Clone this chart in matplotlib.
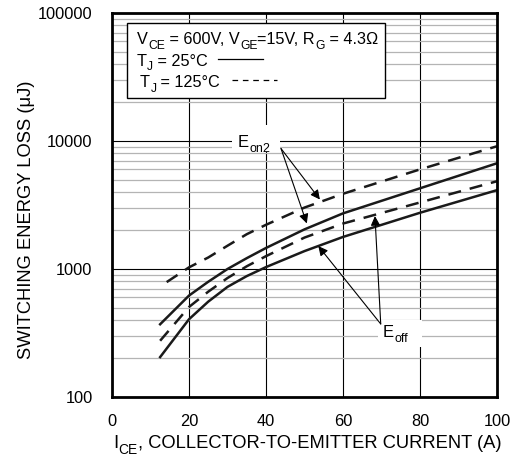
import numpy as np
import matplotlib
matplotlib.use('Agg')
import matplotlib.pyplot as plt
from matplotlib.ticker import NullFormatter, LogLocator

plt.rcParams['font.family'] = ['Liberation Sans', 'DejaVu Sans']

# current (A) and energy (uJ)
ic = [12.5, 20, 25, 30, 35, 40, 50, 60, 80, 100]
ic_on2_125 = [14.2, 20, 25, 30, 35, 40, 50, 60, 80, 100]
eon2_125 = [790, 1030, 1230, 1520, 1870, 2215, 3020, 3870, 6000, 9100]
eon2_25 = [370, 620, 795, 1000, 1215, 1460, 2040, 2720, 4270, 6700]
eoff_125 = [275, 505, 665, 850, 1050, 1260, 1760, 2265, 3310, 4850]
eoff_25 = [205, 405, 556, 725, 880, 1035, 1380, 1780, 2750, 4130]

xticks = [0, 20, 40, 60, 80, 100]
yticks = [100, 1000, 10000, 100000]

FS_TICK = 11.8
FS_LAB = 13.2
FS_BOX = 11.7


def rich(ax, x, y, parts, xycoords, fs=12, **kw):
    # text with real subscripts: parts = [(string, is_sub), ...]
    first = ax.annotate(parts[0][0], xy=(x, y), xycoords=xycoords, fontsize=fs,
                        va='baseline', annotation_clip=False, **kw)
    prev = first
    for s, sub in parts[1:]:
        if sub:
            t = ax.annotate(s, xy=(1, 0), xycoords=(prev, first),
                            xytext=(0.3, -3.4), textcoords='offset points',
                            fontsize=fs * 0.75, va='bottom',
                            annotation_clip=False, **kw)
        else:
            t = ax.annotate(s, xy=(1, 0), xycoords=(prev, first), fontsize=fs,
                            va='bottom', annotation_clip=False, **kw)
        prev = t
    return first


fig = plt.figure(figsize=(5.18, 4.58), dpi=100)
ax = fig.add_axes([112/518, 61/458, 385/518, 384/458])
ax.set_yscale('log')
ax.set_xlim(0, 100)
ax.set_ylim(100, 100000)

# grid
ax.yaxis.set_minor_locator(LogLocator(base=10, subs=np.arange(2, 10)))
ax.yaxis.set_minor_formatter(NullFormatter())
ax.grid(True, which='minor', axis='y', color='#b4b4b4', lw=0.9)
ax.grid(True, which='major', axis='both', color='black', lw=0.8)
ax.set_axisbelow(True)

dash = (5.2, 3.6)
ax.plot(ic_on2_125, eon2_125, color='#1a1a1a', lw=1.8, dashes=dash)
ax.plot(ic, eon2_25, color='#1a1a1a', lw=1.8)
ax.plot(ic, eoff_125, color='#1a1a1a', lw=1.8, dashes=dash)
ax.plot(ic, eoff_25, color='#1a1a1a', lw=1.8)

ax.set_xticks(xticks)
ax.set_yticks(yticks)
ax.set_yticklabels([str(v) for v in yticks])
ax.tick_params(axis='both', which='both', length=0, labelsize=FS_TICK)
ax.tick_params(axis='y', pad=14)
ax.tick_params(axis='x', pad=12)
for s in ax.spines.values():
    s.set_linewidth(2.0)

ax.set_ylabel('SWITCHING ENERGY LOSS (\u03bcJ)', fontsize=FS_LAB)
ax.yaxis.set_label_coords(-0.199, 0.462)
rich(ax, 113, 10, [('I', False), ('CE', True),
                   (', COLLECTOR-TO-EMITTER CURRENT (A)', False)],
     'figure pixels', fs=FS_LAB)

# condition box
box = plt.Rectangle((14.5/385, 1 - 85.3/384), (385 - 126.7)/385, 75/384,
                    transform=ax.transAxes, facecolor='white', edgecolor='black',
                    lw=1.0, zorder=3)
ax.add_patch(box)
rich(ax, 0.064, 0.9185, [('V', False), ('CE', True), (' = 600V, V', False),
                         ('GE', True), ('=15V, R', False), ('G', True),
                         (' = 4.3\u03a9', False)],
     'axes fraction', fs=FS_BOX, zorder=4)
rich(ax, 0.064, 0.8628, [('T', False), ('J', True), (' = 25\u00b0C', False)],
     'axes fraction', fs=FS_BOX, zorder=4)
rich(ax, 0.0727, 0.8065, [('T', False), ('J', True), (' = 125\u00b0C', False)],
     'axes fraction', fs=FS_BOX, zorder=4)
ax.plot([106/385, 151/385], [1 - 46/384, 1 - 46/384], transform=ax.transAxes,
        color='black', lw=0.9, zorder=4)
ax.plot([120/385, 165/385], [1 - 67/384, 1 - 67/384], transform=ax.transAxes,
        color='black', lw=0.9, dashes=(4.5, 3.8), zorder=4)

# labels with arrows
ax.add_patch(plt.Rectangle((31.2, 8200), 12.4, 13330 - 8200, facecolor='white',
                           edgecolor='none', zorder=4))
ax.add_patch(plt.Rectangle((69.1, 245), 11.4, 400 - 245, facecolor='white',
                           edgecolor='none', zorder=4))
rich(ax, 32.7, 8980, [('E', False), ('on2', True)], 'data', fs=12, zorder=5)
rich(ax, 70.4, 294, [('E', False), ('off', True)], 'data', fs=12, zorder=5)

arr = dict(arrowstyle='-|>', color='black', lw=0.8, mutation_scale=14,
           shrinkA=0, shrinkB=0)
for tip in [(54.0, 3490), (50.6, 2270)]:
    ax.annotate('', xy=tip, xytext=(43.9, 8730), arrowprops=arr, zorder=5)
for tip in [(53.6, 1510), (68.3, 2590)]:
    ax.annotate('', xy=tip, xytext=(69.8, 372), arrowprops=arr, zorder=5)

fig.savefig('out.png', dpi=100)
